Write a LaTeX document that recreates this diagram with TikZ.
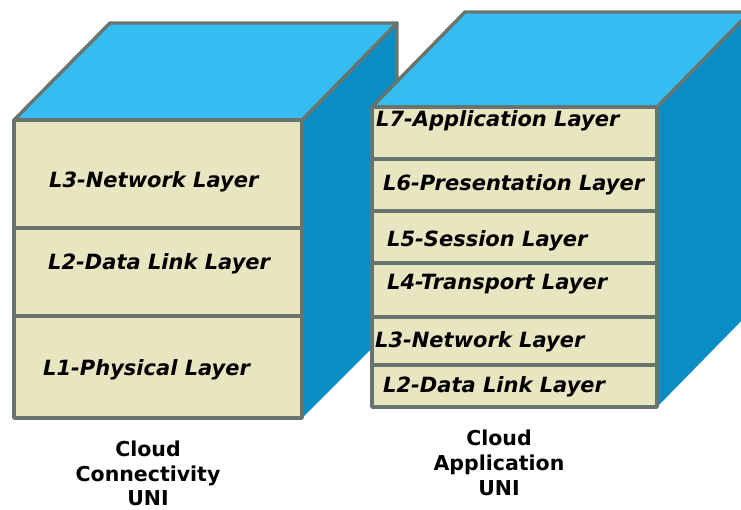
\documentclass[tikz,border=0pt]{standalone}
\usepackage{fontspec}
\setmainfont{DejaVu Sans}
\definecolor{topc}{HTML}{35BDF1}
\definecolor{sidec}{HTML}{0A8CC4}
\definecolor{beige}{HTML}{E8E5C1}
\definecolor{edge}{HTML}{68756F}
\tikzset{
  face/.style={draw=edge, line width=3.4pt, line join=round},
  sideedge/.style={draw=edge, line width=3.4pt, line cap=round, line join=round},
  band/.style={face, fill=beige},
  lay/.style={inner sep=0pt, anchor=base west, font=\fontsize{21}{25}\selectfont\bfseries\itshape},
  captxt/.style={inner sep=0pt, anchor=base, font=\fontsize{20.5}{25}\selectfont\bfseries},
}
\begin{document}
\begin{tikzpicture}[x=1pt,y=-1pt]
\useasboundingbox (0,0) rectangle (741,510);
\clip (0,0) rectangle (741,510);
\fill[white] (0,0) rectangle (741,510);
% ---- left cube
\fill[sidec] (302,120) -- (397,23) -- (397,323) -- (302,418) -- cycle;
\draw[sideedge] (302,120) -- (397,23) -- (397,323);
\draw[face, fill=topc] (14,120) -- (110,23) -- (397,23) -- (302,120) -- cycle;
\draw[band] (14,120) rectangle (302,228);
\draw[band] (14,228) rectangle (302,316);
\draw[band] (14,316) rectangle (302,418);
\node[lay] (a3) at (49,188) {L3-Network Layer};
\node[lay] (a2) at (48,270) {L2-Data Link Layer};
\node[lay] (a1) at (43,375) {L1-Physical Layer};
% ---- right cube
\fill[sidec] (657,107) -- (750,12) -- (750,312) -- (657,407) -- cycle;
\draw[face, fill=topc] (372,107) -- (465,12) -- (750,12) -- (657,107) -- cycle;
\draw[band] (372,107) rectangle (657,159);
\draw[band] (372,159) rectangle (657,211);
\draw[band] (372,211) rectangle (657,263);
\draw[band] (372,263) rectangle (657,317);
\draw[band] (372,317) rectangle (657,365);
\draw[band] (372,365) rectangle (657,407);
\node[lay] (b7) at (376,127) {L7-Application Layer};
\node[lay] (b6) at (383,191) {L6-Presentation Layer};
\node[lay] (b5) at (387,247) {L5-Session Layer};
\node[lay] (b4) at (387,290) {L4-Transport Layer};
\node[lay] (b3) at (375,348) {L3-Network Layer};
\node[lay] (b2) at (383,392) {L2-Data Link Layer};
% ---- captions
\node[captxt] (cl1) at (148,456) {Cloud};
\node[captxt] (cl2) at (148,481) {Connectivity};
\node[captxt] (cl3) at (148,505) {UNI};
\node[captxt] (cr1) at (499,445) {Cloud};
\node[captxt] (cr2) at (499,470) {Application};
\node[captxt] (cr3) at (499,495) {UNI};
\end{tikzpicture}
\end{document}
